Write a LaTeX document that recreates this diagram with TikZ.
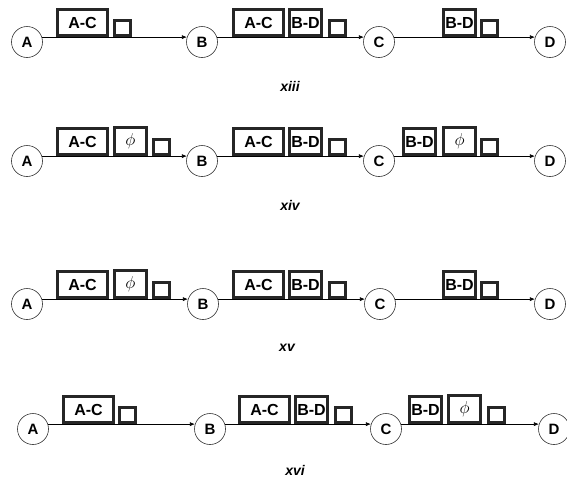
\documentclass[tikz,border=0pt]{standalone}
\usepackage{fontspec}
\setmainfont{Liberation Sans}
\usetikzlibrary{arrows.meta}

\tikzset{
  stn/.style={circle,draw=black!80,line width=0.6pt,minimum size=31pt,inner sep=0pt,
    font=\fontsize{15}{15}\selectfont\bfseries},
  lnk/.style={line width=0.6pt,-{Latex[length=5pt,width=4pt]}},
  pkt/.style={draw=black!85,line width=2.6pt,anchor=south west,inner sep=0pt,
    font=\fontsize{16}{16}\selectfont\bfseries},
  widebox/.style={pkt,minimum width=50.4pt,minimum height=26.4pt},
  midbox/.style={pkt,minimum width=32.4pt,minimum height=26.4pt},
  phibox/.style={pkt,minimum width=32.4pt,minimum height=27.4pt,font=\fontsize{18}{18}\selectfont},
  tinybox/.style={pkt,minimum width=16.4pt,minimum height=15.4pt},
  caselabel/.style={font=\fontsize{14}{14}\selectfont\bfseries\itshape}
}

\begin{document}
\begin{tikzpicture}[x=1pt,y=-1pt]
    \useasboundingbox (0,0) rectangle (567,485);

    \node[stn] (a1) at (27,42) {A};
    \node[stn] (b1) at (202,42) {B};
    \node[stn] (c1) at (379,42) {C};
    \node[stn] (d1) at (550,42) {D};
    \draw[lnk] (a1.18) -- (b1.162);
    \draw[lnk] (b1.18) -- (c1.162);
    \draw[lnk] (c1.18) -- (d1.162);
    \node[widebox] (ac1a) at (56,37) {A-C};
    \node[tinybox] (s1a) at (113,37) {};
    \node[widebox] (ac1b) at (232,37) {A-C};
    \node[midbox] (bd1b) at (288,37) {B-D};
    \node[tinybox] (s1b) at (328,37) {};
    \node[midbox] (bd1c) at (442,37) {B-D};
    \node[tinybox] (s1c) at (480,37) {};
    \node[caselabel] (t1) at (290,86) {xiii};

    \node[stn] (a2) at (27,161) {A};
    \node[stn] (b2) at (202,161) {B};
    \node[stn] (c2) at (379,161) {C};
    \node[stn] (d2) at (550,161) {D};
    \draw[lnk] (a2.18) -- (b2.162);
    \draw[lnk] (b2.18) -- (c2.162);
    \draw[lnk] (c2.18) -- (d2.162);
    \node[widebox] (ac2a) at (56,156) {A-C};
    \node[phibox] (p2a) at (113,156) {$\phi$};
    \node[tinybox] (s2a) at (152,156) {};
    \node[widebox] (ac2b) at (232,156) {A-C};
    \node[midbox] (bd2b) at (288,156) {B-D};
    \node[tinybox] (s2b) at (328,156) {};
    \node[midbox] (bd2c) at (402,156) {B-D};
    \node[phibox] (p2c) at (442,156) {$\phi$};
    \node[tinybox] (s2c) at (480,156) {};
    \node[caselabel] (t2) at (290,205) {xiv};

    \node[stn] (a3) at (27,304) {A};
    \node[stn] (b3) at (203,304) {B};
    \node[stn] (c3) at (380,304) {C};
    \node[stn] (d3) at (550,304) {D};
    \draw[lnk] (a3.18) -- (b3.162);
    \draw[lnk] (b3.18) -- (c3.162);
    \draw[lnk] (c3.18) -- (d3.162);
    \node[widebox] (ac3a) at (56,299) {A-C};
    \node[phibox] (p3a) at (113,299) {$\phi$};
    \node[tinybox] (s3a) at (152,299) {};
    \node[widebox] (ac3b) at (232,299) {A-C};
    \node[midbox] (bd3b) at (288,299) {B-D};
    \node[tinybox] (s3b) at (328,299) {};
    \node[midbox] (bd3c) at (442,299) {B-D};
    \node[tinybox] (s3c) at (480,299) {};
    \node[caselabel] (t3) at (287,348) {xv};

    \node[stn] (a4) at (33,429) {A};
    \node[stn] (b4) at (210,429) {B};
    \node[stn] (c4) at (386,429) {C};
    \node[stn] (d4) at (554,429) {D};
    \draw[lnk] (a4.18) -- (b4.162);
    \draw[lnk] (b4.18) -- (c4.162);
    \draw[lnk] (c4.18) -- (d4.162);
    \node[widebox] (ac4a) at (62,424) {A-C};
    \node[tinybox] (s4a) at (118,424) {};
    \node[widebox] (ac4b) at (238,424) {A-C};
    \node[midbox] (bd4b) at (294,424) {B-D};
    \node[tinybox] (s4b) at (334,424) {};
    \node[midbox] (bd4c) at (408,424) {B-D};
    \node[phibox] (p4c) at (447,424) {$\phi$};
    \node[tinybox] (s4c) at (487,424) {};
    \node[caselabel] (t4) at (295,470) {xvi};
\end{tikzpicture}
\end{document}
